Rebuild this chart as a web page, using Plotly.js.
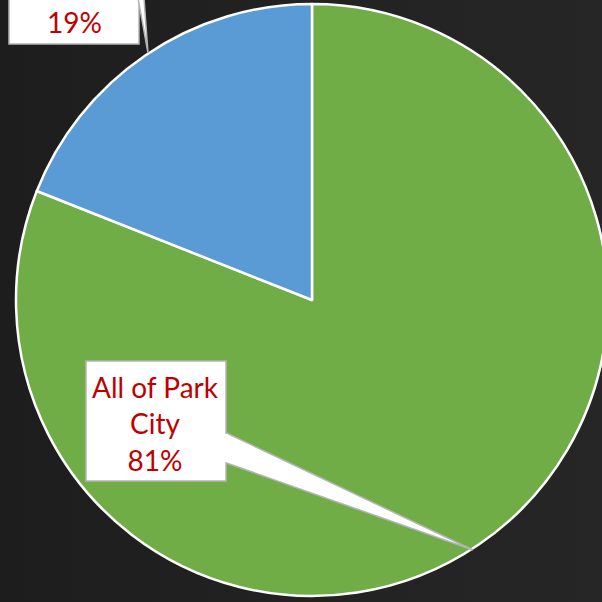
<!DOCTYPE html>
<html>
<head>
<meta charset="utf-8">
<script src="https://cdn.plot.ly/plotly-3.0.1.min.js"></script>
<style>
  html, body { margin:0; padding:0; width:602px; height:602px; overflow:hidden;
    background: linear-gradient(90deg, #1d1d1d 0%, #222222 50%, #262626 100%); }
  #chart { width:620px; height:602px; }
</style>
</head>
<body>
<div id="chart"></div>
<script>
// ---- data ----
const categories = ['All of Park City', 'Other area'];
const values = [81, 19];
const sliceColors = ['#70AD47', '#5B9BD5'];
const labelTexts = ['All of Park<br>City<br>81%', '19%'];

// ---- layout helpers (pixel -> paper) ----
const W = 620, H = 602;
const px = x => x / W;
const py = y => 1 - y / H;

const trace = {
  type: 'pie',
  labels: categories,
  values: values,
  sort: false,
  direction: 'clockwise',
  rotation: 0,
  textinfo: 'none',
  hoverinfo: 'label+percent',
  marker: { colors: sliceColors, line: { color: '#ffffff', width: 2.5 } },
  domain: { x: [px(16), px(608)], y: [py(596), py(4)] },
  showlegend: false
};

const boxLine = { color: '#b4b4b4', width: 1.5 };
const shapes = [
  // 19% box (cut off at top)
  { type: 'rect', xref: 'paper', yref: 'paper', x0: px(9), x1: px(139), y0: py(-40), y1: py(44),
    fillcolor: '#ffffff', line: boxLine, layer: 'above' },
  { type: 'path', xref: 'paper', yref: 'paper', layer: 'above',
    path: `M ${px(138)} ${py(-2)} L ${px(148)} ${py(53)} L ${px(144)} ${py(-2)}`,
    fillcolor: '#ffffff', line: boxLine },
  // 81% box
  { type: 'rect', xref: 'paper', yref: 'paper', x0: px(86), x1: px(226), y0: py(481), y1: py(361),
    fillcolor: '#ffffff', line: boxLine, layer: 'above' },
  { type: 'path', xref: 'paper', yref: 'paper', layer: 'above',
    path: `M ${px(226.5)} ${py(433)} L ${px(473)} ${py(550)} L ${px(226.5)} ${py(463)}`,
    fillcolor: '#ffffff', line: boxLine },
  { type: 'rect', xref: 'paper', yref: 'paper', x0: px(224), x1: px(228), y0: py(462), y1: py(434),
    fillcolor: '#ffffff', line: { width: 0 }, layer: 'above' }
];

const annFont = { family: 'Lato, "Open Sans", sans-serif', size: 28, color: '#C00000' };
const annotations = [
  { xref: 'paper', yref: 'paper', x: px(156), y: py(423), text: labelTexts[0], showarrow: false,
    font: annFont, xanchor: 'center', yanchor: 'middle', align: 'center' },
  { xref: 'paper', yref: 'paper', x: px(74), y: py(22), text: labelTexts[1], showarrow: false,
    font: annFont, xanchor: 'center', yanchor: 'middle' }
];

const layout = {
  width: W, height: H,
  margin: { l: 0, r: 0, t: 0, b: 0 },
  paper_bgcolor: 'rgba(0,0,0,0)',
  plot_bgcolor: 'rgba(0,0,0,0)',
  shapes: shapes,
  annotations: annotations,
  showlegend: false
};

Plotly.newPlot('chart', [trace], layout, { displayModeBar: false, staticPlot: true });
</script>
</body>
</html>
